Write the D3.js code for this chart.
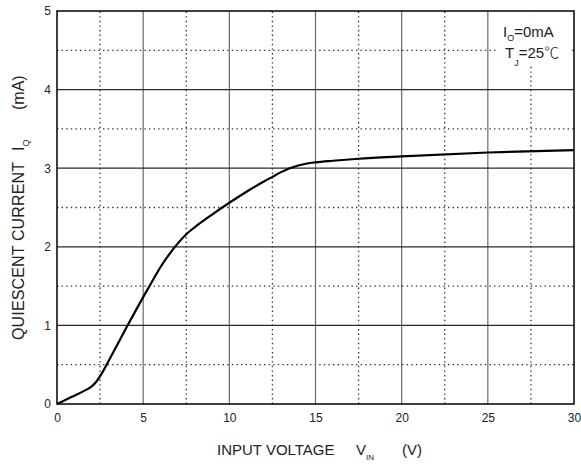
<!DOCTYPE html>
<html>
<head>
<meta charset="utf-8">
<script src="https://cdn.jsdelivr.net/npm/d3@7"></script>
<style>
  body { margin: 0; background: #fff; }
  text { font-family: "Liberation Sans", Arial, sans-serif; fill: #222; }
</style>
</head>
<body>
<div id="chart"></div>
<script>
// Data
const vin = [0, 0.8, 1.6, 2.0, 2.3, 2.6, 3, 4, 5, 5.6, 6, 6.5, 7, 7.5, 8, 9, 10, 11, 12, 12.5, 13, 13.5, 14, 14.5, 15, 16, 17.5, 20, 25, 30];
const iq  = [0, 0.085, 0.17, 0.22, 0.29, 0.39, 0.55, 0.96, 1.36, 1.59, 1.74, 1.9, 2.04, 2.16, 2.25, 2.41, 2.56, 2.7, 2.83, 2.89, 2.95, 3.0, 3.035, 3.06, 3.075, 3.095, 3.12, 3.15, 3.2, 3.23];
const xMajor = [0, 5, 10, 15, 20, 25, 30];
const xMinor = [2.5, 7.5, 12.5, 17.5, 22.5, 27.5];
const yMajor = [0, 1, 2, 3, 4, 5];
const yMinor = [0.5, 1.5, 2.5, 3.5, 4.5];

const W = 581, H = 466;
const m = {l: 57, r: 7, t: 11, b: 62};
const font = "'Liberation Sans', Arial, sans-serif";

const svg = d3.select("#chart").append("svg")
    .attr("width", W).attr("height", H);

const x = d3.scaleLinear().domain([0, 30]).range([m.l, W - m.r]);
const y = d3.scaleLinear().domain([0, 5]).range([H - m.b, m.t]);

// minor dotted grid
svg.append("g").selectAll("line").data(xMinor).join("line")
    .attr("x1", d => x(d)).attr("x2", d => x(d))
    .attr("y1", y(0)).attr("y2", y(5))
    .attr("stroke", "#333").attr("stroke-width", 1.3)
    .attr("stroke-dasharray", "1.4,3.2");
svg.append("g").selectAll("line").data(yMinor).join("line")
    .attr("x1", x(0)).attr("x2", x(30))
    .attr("y1", d => y(d)).attr("y2", d => y(d))
    .attr("stroke", "#333").attr("stroke-width", 1.3)
    .attr("stroke-dasharray", "1.4,3.2");

// major solid grid
svg.append("g").selectAll("line").data(xMajor.slice(1, -1)).join("line")
    .attr("x1", d => x(d)).attr("x2", d => x(d))
    .attr("y1", y(0)).attr("y2", y(5))
    .attr("stroke", "#6a6a6a").attr("stroke-width", 1.2);
svg.append("g").selectAll("line").data(yMajor.slice(1, -1)).join("line")
    .attr("x1", x(0)).attr("x2", x(30))
    .attr("y1", d => y(d)).attr("y2", d => y(d))
    .attr("stroke", "#2a2a2a").attr("stroke-width", 1.2);

// legend box
const lg = svg.append("g");
lg.append("rect")
    .attr("x", x(30) - 76).attr("y", y(5) + 1)
    .attr("width", 72).attr("height", 54)
    .attr("fill", "#fff");
const l1 = lg.append("text").attr("x", 503).attr("y", 37).attr("font-size", 15);
l1.append("tspan").text("I");
l1.append("tspan").attr("font-size", 9).attr("dy", 4).text("O");
l1.append("tspan").attr("dy", -4).text("=0mA");
const l2 = lg.append("text").attr("x", 505).attr("y", 58).attr("font-size", 15);
l2.append("tspan").text("T");
l2.append("tspan").attr("font-size", 9).attr("dy", 8).text("J");
l2.append("tspan").attr("dy", -8).text("=25");
l2.append("tspan").attr("font-family", "'Noto Sans CJK SC', sans-serif").attr("font-weight", 300).text("℃");

// frame
svg.append("rect")
    .attr("x", x(0)).attr("y", y(5))
    .attr("width", x(30) - x(0)).attr("height", y(0) - y(5))
    .attr("fill", "none").attr("stroke", "#000").attr("stroke-width", 1.5);

// curve
const pts = vin.map((v, i) => [v, iq[i]]);
svg.append("path")
    .datum(pts)
    .attr("fill", "none").attr("stroke", "#000").attr("stroke-width", 2.2)
    .attr("stroke-linejoin", "round")
    .attr("d", d3.line().x(d => x(d[0])).y(d => y(d[1])).curve(d3.curveMonotoneX));

// axes
const xAxis = svg.append("g")
    .attr("transform", `translate(0,${y(0)})`)
    .call(d3.axisBottom(x).tickValues(xMajor).tickSize(0).tickPadding(9));
const yAxis = svg.append("g")
    .attr("transform", `translate(${x(0)},0)`)
    .call(d3.axisLeft(y).tickValues(yMajor).tickFormat(d3.format("d")).tickSize(0).tickPadding(6));
[xAxis, yAxis].forEach(a => {
    a.select(".domain").remove();
    a.selectAll("text").attr("font-size", 12).attr("font-family", font).attr("fill", "#222");
});

// axis titles
const xt = svg.append("text").attr("x", 217).attr("y", 455).attr("font-size", 15);
xt.append("tspan").text("INPUT VOLTAGE");
xt.append("tspan").attr("x", 356).text("V");
xt.append("tspan").attr("font-size", 8).attr("dy", 5).text("IN");
xt.append("tspan").attr("x", 402).attr("dy", -5).text("(V)");

const yt = svg.append("text")
    .attr("transform", "translate(24,0) rotate(-90)")
    .attr("font-size", 16);
yt.append("tspan").attr("x", -340)
    .attr("textLength", 178).attr("lengthAdjust", "spacing")
    .text("QUIESCENT CURRENT");
yt.append("tspan").attr("x", -151).text("I");
yt.append("tspan").attr("font-size", 9).attr("dy", 5).text("Q");
yt.append("tspan").attr("x", -110).attr("dy", -5).text("(mA)");
</script>
</body>
</html>
